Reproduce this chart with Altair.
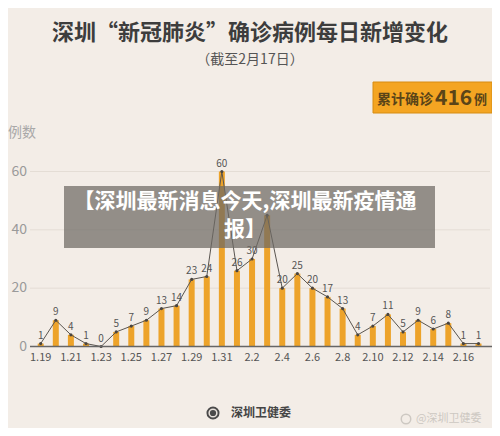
import altair as alt
import pandas as pd

dates = ["1.19", "1.20", "1.21", "1.22", "1.23", "1.24", "1.25", "1.26", "1.27", "1.28",
         "1.29", "1.30", "1.31", "2.1", "2.2", "2.3", "2.4", "2.5", "2.6", "2.7",
         "2.8", "2.9", "2.10", "2.11", "2.12", "2.13", "2.14", "2.15", "2.16", "2.17"]
values = [1, 9, 4, 1, 0, 5, 7, 9, 13, 14,
          23, 24, 60, 26, 30, 45, 20, 25, 20, 17,
          13, 4, 7, 11, 5, 9, 6, 8, 1, 1]
hidden_labels = ["2.3"]
y_ticks = [0, 20, 40, 60]
grid_values = [20, 40, 60]

title = "深圳“新冠肺炎”确诊病例每日新增变化"
subtitle = "（截至2月17日）"
y_title = "例数"
total_prefix = "累计确诊"
total_value = "416"
total_suffix = "例"
overlay_lines = ["【深圳最新消息今天,深圳最新疫情通", "报】"]
source = "深圳卫健委"
watermark = "@深圳卫健委"

df = pd.DataFrame({"i": list(range(len(dates))), "d": dates, "v": values})
df["lab"] = [("" if d in hidden_labels else str(v)) for d, v in zip(dates, values)]
df_ticks = df[df["i"] % 2 == 0]

FONT = "Noto Sans CJK SC"
xs = alt.Scale(domain=[0, len(dates) - 1], range=[27.7, 475.5])
ys = alt.Scale(domain=[0, 60], range=[338.5, 163.5])

X = alt.X("i:Q", scale=xs, axis=None)
Y = alt.Y("v:Q", scale=ys, axis=None)

base = alt.Chart(df)

grid = alt.Chart(pd.DataFrame({"v": grid_values})).mark_rule(
    color="#E4DDD5", strokeWidth=1
).encode(y=Y, x=alt.value(22), x2=alt.value(482))

bars = base.mark_bar(width=6, color="#EDA32A").encode(x=X, y=Y)

line = base.mark_line(color="#5a5550", strokeWidth=1).encode(x=X, y=Y)
pts = base.mark_point(filled=True, color="#4a4540", size=10, opacity=1).encode(x=X, y=Y)

labels = base.mark_text(fontSize=10, color="#555", dy=-8, font=FONT).encode(
    x=X, y=Y, text="lab:N")

axis_line = alt.Chart(pd.DataFrame({"v": [0]})).mark_rule(
    color="#666", strokeWidth=1.5
).encode(y=Y, x=alt.value(22), x2=alt.value(486))
arrow = alt.Chart(pd.DataFrame({"v": [0]})).mark_point(
    shape="triangle-right", filled=True, color="#555", size=45, opacity=1
).encode(y=Y, x=alt.value(487))

xlabels = alt.Chart(df_ticks).mark_text(
    fontSize=11, color="#555", font=FONT, baseline="middle"
).encode(x=X, y=alt.value(350), text="d:N")

ylabels = alt.Chart(pd.DataFrame({"v": y_ticks})).mark_text(
    fontSize=14, color="#9a9a9a", font=FONT, align="right", baseline="middle"
).encode(y=Y, x=alt.value(19), text="v:Q")


def txt(s, x, y, **kw):
    return alt.Chart(pd.DataFrame({"t": [s]})).mark_text(font=FONT, **kw).encode(
        x=alt.value(x), y=alt.value(y), text="t:N")


ytitle = txt(y_title, 0, 125, fontSize=14, color="#a8a8a8", align="left", baseline="middle")
t_main = txt(title, 242, 25, fontSize=22, fontWeight="bold", color="#3d3d3d", baseline="middle")
t_sub = txt(subtitle, 242, 52, fontSize=14, color="#555", baseline="middle")

box = alt.Chart(pd.DataFrame({"a": [1]})).mark_rect(
    fill="#F4A522", stroke="#D68C12", strokeWidth=1
).encode(x=alt.value(365), x2=alt.value(484), y=alt.value(74), y2=alt.value(105))
b1 = txt(total_prefix, 369, 96, fontSize=14, fontWeight="bold", color="#5a4418", align="left", baseline="alphabetic")
b2 = txt(total_value, 427, 97, fontSize=21, fontWeight="bold", color="#5a4418", align="left", baseline="alphabetic")
b3 = txt(total_suffix, 466, 96, fontSize=13, fontWeight="bold", color="#5a4418", align="left", baseline="alphabetic")

overlay = alt.Chart(pd.DataFrame({"a": [1]})).mark_rect(
    fill="#6e6964", opacity=0.72
).encode(x=alt.value(56), x2=alt.value(427), y=alt.value(178), y2=alt.value(240))
otext = alt.Chart(pd.DataFrame({"t": [overlay_lines]})).mark_text(
    font=FONT, fontSize=21, fontWeight="bold", color="white", lineHeight=28,
    baseline="middle", align="center"
).encode(x=alt.value(237), y=alt.value(194), text="t")

logo = alt.Chart(pd.DataFrame({"a": [1]})).mark_point(
    filled=True, color="#4a4a4a", size=170, opacity=1
).encode(x=alt.value(205), y=alt.value(405))
logo_in = alt.Chart(pd.DataFrame({"a": [1]})).mark_point(
    filled=False, color="#e8e2dc", size=60, strokeWidth=1.5, opacity=1
).encode(x=alt.value(205), y=alt.value(405))
src = txt(source, 223, 405, fontSize=12, fontWeight="bold", color="#444", align="left", baseline="middle")
wm = txt(watermark, 408, 411, fontSize=11, color="#cdc8c2", align="left", baseline="middle")
wm_icon = alt.Chart(pd.DataFrame({"a": [1]})).mark_point(
    filled=False, color="#cdc8c2", size=90, strokeWidth=1.5, opacity=1
).encode(x=alt.value(398), y=alt.value(411))

chart = alt.layer(
    grid, bars, line, pts, labels, axis_line, arrow, xlabels, ylabels, ytitle,
    t_main, t_sub, box, b1, b2, b3, overlay, otext, logo, logo_in, src, wm_icon, wm
).properties(
    width=484, height=420, padding=0,
    autosize=alt.AutoSizeParams(type="none"),
    background="#F3EDE7"
).configure_view(stroke=None)

chart.save("out.html", embed_options={"renderer": "svg", "actions": False})
